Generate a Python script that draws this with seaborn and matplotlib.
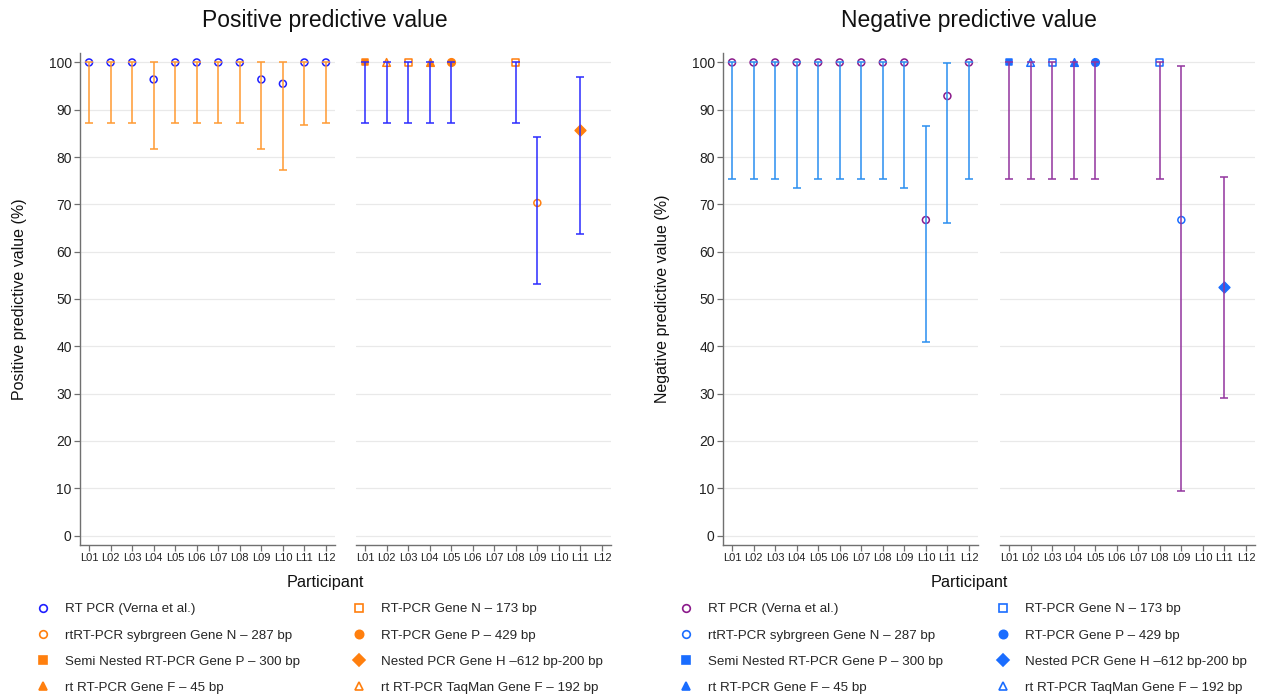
import numpy as np
import pandas as pd
import seaborn as sns
import matplotlib.pyplot as plt
from matplotlib.lines import Line2D

participants = ["L01", "L02", "L03", "L04", "L05", "L06",
                "L07", "L08", "L09", "L10", "L11", "L12"]

# RT PCR (Verna et al.) for every lab
ppv_verna = [100, 100, 100, 96.4, 100, 100, 100, 100, 96.4, 95.5, 100, 100]
ppv_verna_lo = [87.2, 87.2, 87.2, 81.7, 87.2, 87.2, 87.2, 87.2, 81.7, 77.2, 86.8, 87.2]
ppv_verna_hi = [100, 100, 100, 100, 100, 100, 100, 100, 100, 100, 100, 100]

npv_verna = [100, 100, 100, 100, 100, 100, 100, 100, 100, 66.7, 92.9, 100]
npv_verna_lo = [75.4, 75.4, 75.4, 73.5, 75.4, 75.4, 75.4, 75.4, 73.5, 41.0, 66.1, 75.4]
npv_verna_hi = [100, 100, 100, 100, 100, 100, 100, 100, 100, 86.6, 99.8, 100]

# each lab's own method
other_labs = ["L01", "L02", "L03", "L04", "L05", "L08", "L09", "L11"]
other_methods = ["Semi Nested RT-PCR Gene P – 300 bp",
                 "rt RT-PCR TaqMan Gene F – 192 bp",
                 "RT-PCR Gene N – 173 bp",
                 "rt RT-PCR Gene F – 45 bp",
                 "RT-PCR Gene P – 429 bp",
                 "RT-PCR Gene N – 173 bp",
                 "rtRT-PCR sybrgreen Gene N – 287 bp",
                 "Nested PCR Gene H –612 bp-200 bp"]
ppv_other = [100, 100, 100, 100, 100, 100, 70.3, 85.7]
ppv_other_lo = [87.2, 87.2, 87.2, 87.2, 87.2, 87.2, 53.1, 63.7]
ppv_other_hi = [100, 100, 100, 100, 100, 100, 84.2, 97.0]

npv_other = [100, 100, 100, 100, 100, 100, 66.7, 52.6]
npv_other_lo = [75.4, 75.4, 75.4, 75.4, 75.4, 75.4, 9.5, 29.0]
npv_other_hi = [100, 100, 100, 100, 100, 100, 99.2, 75.7]

legend_col1 = ["RT PCR (Verna et al.)",
               "rtRT-PCR sybrgreen Gene N – 287 bp",
               "Semi Nested RT-PCR Gene P – 300 bp",
               "rt RT-PCR Gene F – 45 bp"]
legend_col2 = ["RT-PCR Gene N – 173 bp",
               "RT-PCR Gene P – 429 bp",
               "Nested PCR Gene H –612 bp-200 bp",
               "rt RT-PCR TaqMan Gene F – 192 bp"]

# marker, filled, size (points)
styles = {
    "RT PCR (Verna et al.)": ("o", False, 5),
    "rtRT-PCR sybrgreen Gene N – 287 bp": ("o", False, 5),
    "Semi Nested RT-PCR Gene P – 300 bp": ("s", True, 5),
    "rt RT-PCR Gene F – 45 bp": ("^", True, 5.5),
    "RT-PCR Gene N – 173 bp": ("s", False, 5),
    "RT-PCR Gene P – 429 bp": ("o", True, 5.5),
    "Nested PCR Gene H –612 bp-200 bp": ("D", True, 5.5),
    "rt RT-PCR TaqMan Gene F – 192 bp": ("^", False, 5.5),
}

sns.set_theme(style="whitegrid")
plt.rcParams["font.family"] = ["Liberation Sans", "DejaVu Sans"]
plt.rcParams["axes.edgecolor"] = "#707070"
plt.rcParams["grid.color"] = "#e9e9e9"

fig = plt.figure(figsize=(12.64, 6.97), dpi=100)
W, H = 1264, 697
bottom, height = 1 - 545 / H, (545 - 53) / H
width = 255 / W
axes = [fig.add_axes([x / W, bottom, width, height]) for x in (80, 356, 723, 1000)]

pos = {p: i for i, p in enumerate(participants)}


def draw(ax, labs, methods, val, lo, hi, bar_color, mark_color):
    df = pd.DataFrame({"lab": labs, "method": methods, "value": val, "lo": lo, "hi": hi})
    df["x"] = df["lab"].map(pos)
    ax.errorbar(df["x"], df["value"], yerr=[df["value"] - df["lo"], df["hi"] - df["value"]],
                fmt="none", ecolor=bar_color, elinewidth=1.3, capsize=2.6,
                capthick=1.3, alpha=0.85, zorder=4)
    for m, sub in df.groupby("method"):
        mk, filled, ms = styles[m]
        sns.scatterplot(data=sub, x="x", y="value", ax=ax, marker=mk, s=ms ** 2,
                        color=mark_color, edgecolor=mark_color,
                        facecolor=mark_color if filled else "none",
                        linewidth=1.1, legend=False, zorder=3)


def style_axis(ax, first):
    ax.set_xlim(-0.42, 11.42)
    ax.set_ylim(-2, 102)
    ax.set_yticks(range(0, 101, 10))
    ax.set_xticks(range(len(participants)))
    ax.set_xticklabels(participants, fontsize=8)
    ax.grid(axis="x", visible=False)
    ax.grid(axis="y", linewidth=0.9)
    ax.set_xlabel("")
    ax.set_ylabel("")
    for s in ("top", "right"):
        ax.spines[s].set_visible(False)
    ax.spines["bottom"].set_linewidth(1.0)
    ax.tick_params(axis="x", bottom=True, length=4, width=0.9, color="#707070",
                   pad=2, labelcolor="#222222")
    if first:
        ax.spines["left"].set_linewidth(1.0)
        ax.tick_params(axis="y", left=True, length=4, width=0.9, color="#707070",
                       labelsize=10, pad=2, labelcolor="#222222")
    else:
        ax.spines["left"].set_visible(False)
        ax.tick_params(axis="y", left=False, labelleft=False)


panels = [
    ("Positive predictive value", ppv_verna, ppv_verna_lo, ppv_verna_hi,
     ppv_other, ppv_other_lo, ppv_other_hi, "#ff9a33", "#1f1fff", "#2c2cff", "#ff7f0e"),
    ("Negative predictive value", npv_verna, npv_verna_lo, npv_verna_hi,
     npv_other, npv_other_lo, npv_other_hi, "#2b8ff0", "#8b1a8b", "#93359e", "#1a6dff"),
]

centers = [325, 969]
# marker x of legend columns (pixels)
legend_cols = [(43, 359), (686, 1003)]
leg_fs = 9.6
leg_px = leg_fs * 100 / 72
for k, (title, v, vl, vh, o, ol, oh, bar_a, mk_a, bar_b, mk_b) in enumerate(panels):
    ax_a, ax_b = axes[2 * k], axes[2 * k + 1]
    draw(ax_a, participants, ["RT PCR (Verna et al.)"] * 12, v, vl, vh, bar_a, mk_a)
    draw(ax_b, other_labs, other_methods, o, ol, oh, bar_b, mk_b)
    style_axis(ax_a, True)
    style_axis(ax_b, False)
    ax_a.set_ylabel(title + " (%)", fontsize=11.5, color="#111111")
    ax_a.yaxis.set_label_coords(-0.208, 0.5)
    fig.text(centers[k] / W, 1 - 20 / H, title, fontsize=16.5, ha="center", va="center",
             color="#111111")
    fig.text(centers[k] / W, 1 - 583 / H, "Participant", fontsize=11.7, ha="center",
             va="center", color="#111111")

    for col, labels in zip(legend_cols[k], (legend_col1, legend_col2)):
        handles = []
        for m in labels:
            mk, filled, ms = styles[m]
            c = mk_a if m == "RT PCR (Verna et al.)" else mk_b
            handles.append(Line2D([], [], linestyle="none", marker=mk, markersize=ms + 0.5,
                                  markeredgecolor=c, markerfacecolor=c if filled else "none",
                                  markeredgewidth=1.2))
        x0 = col - leg_px / 2
        fig.legend(handles, labels, loc="upper left",
                   bbox_to_anchor=(x0 / W, 1 - 603 / H), frameon=False,
                   fontsize=leg_fs, handlelength=1.0, handletextpad=1.15,
                   labelspacing=1.04, borderpad=0, borderaxespad=0)

fig.savefig("out.png", dpi=100)
